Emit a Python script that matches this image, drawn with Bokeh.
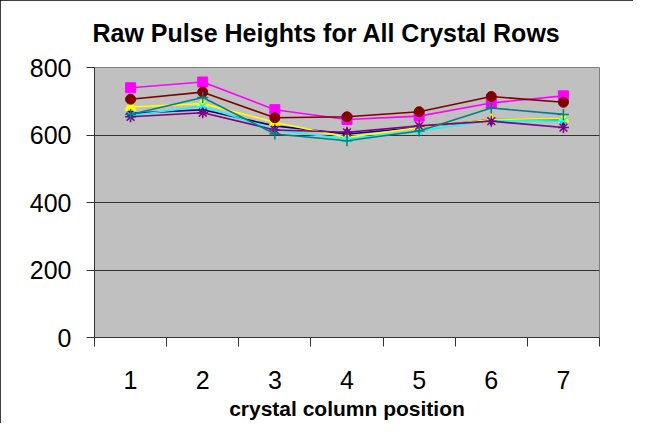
from bokeh.plotting import figure
from bokeh.models import Range1d, FixedTicker
from bokeh.embed import file_html
from bokeh.resources import INLINE

positions = [1, 2, 3, 4, 5, 6, 7]
position_labels = ["1", "2", "3", "4", "5", "6", "7"]
y_ticks = [0, 200, 400, 600, 800]

row1 = [664, 675, 627, 603, 622, 646, 644]   # navy diamond
row2 = [740, 757, 675, 646, 656, 695, 716]   # magenta square
row3 = [683, 693, 638, 593, 622, 646, 648]   # yellow triangle
row4 = [658, 685, 615, 588, 612, 643, 641]   # cyan x
row5 = [654, 666, 615, 608, 627, 641, 622]   # purple star
row6 = [706, 727, 651, 654, 669, 714, 697]   # maroon circle
row7 = [661, 711, 603, 583, 612, 680, 661]   # teal plus

series = [
    (row1, "#000080", "diamond", 12),
    (row2, "#FF00FF", "square", 10),
    (row3, "#FFFF00", "triangle", 11),
    (row4, "#00FFFF", "x", 10),
    (row5, "#800080", "asterisk", 11),
    (row6, "#800000", "circle", 10),
    (row7, "#008080", "cross", 11),
]

W, H = 633, 423
p = figure(width=W, height=H, output_backend="svg", toolbar_location=None,
           x_range=Range1d(0.5, 7.5), y_range=Range1d(0, 800),
           min_border_left=94, min_border_right=34, min_border_top=67,
           min_border_bottom=86,
           title="Raw Pulse Heights for All Crystal Rows")

p.styles = {"outline": "1px solid black", "outline-offset": "-1px"}
p.background_fill_color = "#C0C0C0"
p.border_fill_color = "white"
p.outline_line_color = "#808080"
p.outline_line_width = 1

p.title.text_font = "Liberation Sans"
p.title.text_font_size = "25px"
p.title.text_font_style = "bold"
p.title.text_color = "black"
p.title.align = "left"
p.title.offset = -2
p.title.standoff = 37
p.title.vertical_align = "top"

for vals, col, mk, sz in series:
    p.line(positions, vals, line_color=col, line_width=1.6)
    if mk in ("x", "asterisk", "cross"):
        p.scatter(positions, vals, marker=mk, size=sz, line_color=col,
                  line_width=1.5, fill_color=None)
    else:
        p.scatter(positions, vals, marker=mk, size=sz, line_color=col,
                  fill_color=col, line_width=1)

xa = p.xaxis[0]
xa.ticker = FixedTicker(ticks=positions,
                        minor_ticks=[0.5, 1.5, 2.5, 3.5, 4.5, 5.5, 6.5, 7.5])
xa.major_label_overrides = {pos: lab for pos, lab in zip(positions, position_labels)}
xa.major_tick_out = 0
xa.major_tick_in = 0
xa.minor_tick_out = 9
xa.minor_tick_in = 0
xa.minor_tick_line_color = "#333333"
xa.axis_line_color = "#333333"
xa.major_label_text_font = "Liberation Sans"
xa.major_label_text_font_size = "25px"
xa.major_label_text_color = "black"
xa.major_label_standoff = 24
xa.axis_label = "crystal column position"
xa.axis_label_text_font = "Liberation Sans"
xa.axis_label_text_font_size = "21px"
xa.axis_label_text_font_style = "bold"
xa.axis_label_text_color = "black"
xa.axis_label_standoff = 5

ya = p.yaxis[0]
ya.ticker = FixedTicker(ticks=y_ticks)
ya.minor_tick_line_color = None
ya.major_tick_out = 8
ya.major_tick_in = 0
ya.major_tick_line_color = "#333333"
ya.axis_line_color = "#333333"
ya.major_label_text_font = "Liberation Sans"
ya.major_label_text_font_size = "25px"
ya.major_label_text_color = "black"
ya.major_label_standoff = 15

p.xgrid.grid_line_color = None
p.ygrid.grid_line_color = "#333333"
p.ygrid.grid_line_width = 1

open("out.html", "w").write(file_html(p, INLINE))
